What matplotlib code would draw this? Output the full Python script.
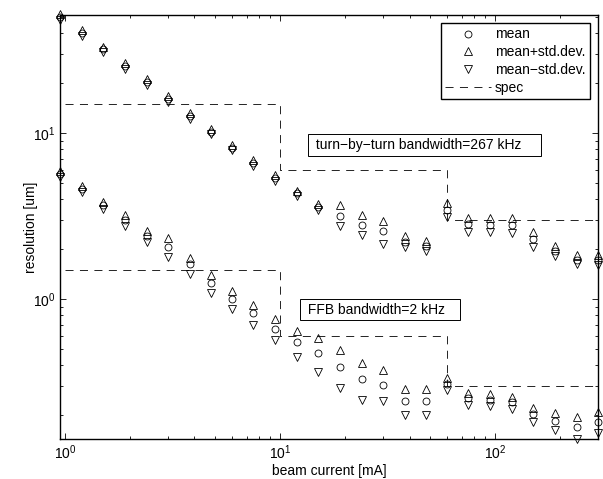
import matplotlib
matplotlib.use("Agg")
import matplotlib.pyplot as plt
from matplotlib.ticker import NullFormatter

plt.rcParams['font.family'] = ['Liberation Sans', 'DejaVu Sans']
plt.rcParams['font.size'] = 10
plt.rcParams['lines.scale_dashes'] = False

# beam current [mA]
current = [0.95, 1.2, 1.5, 1.9, 2.4, 3.0, 3.8, 4.75, 6.0, 7.5, 9.5, 12, 15, 19,
           24, 30, 38, 47.5, 60, 75, 95, 120, 150, 190, 240, 300]

# turn-by-turn resolution [um]
tbt_mean = [50, 39.9, 31.9, 25.4, 20.4, 16.0, 12.7, 10.2, 8.15, 6.62, 5.34, 4.33, 3.60,
            3.17, 2.79, 2.57, 2.22, 2.09, 3.44, 2.82, 2.80, 2.80, 2.30, 1.95, 1.73, 1.73]
tbt_up = [52, 41.5, 33.2, 26.4, 21.2, 16.6, 13.2, 10.6, 8.45, 6.88, 5.55, 4.50, 3.74,
          3.68, 3.21, 2.96, 2.40, 2.24, 3.77, 3.06, 3.06, 3.06, 2.54, 2.09, 1.84, 1.84]
tbt_down = [48, 38.3, 30.6, 24.4, 19.6, 15.4, 12.2, 9.8, 7.85, 6.36, 5.13, 4.16, 3.46,
            2.76, 2.43, 2.14, 2.07, 1.95, 3.13, 2.54, 2.54, 2.51, 2.07, 1.82, 1.62, 1.61]

# FFB resolution [um]
ffb_mean = [5.66, 4.58, 3.68, 2.99, 2.40, 2.05, 1.62, 1.254, 1.0, 0.820, 0.660, 0.553, 0.475,
            0.388, 0.328, 0.303, 0.244, 0.244, 0.308, 0.252, 0.247, 0.240, 0.203, 0.185, 0.169, 0.182]
ffb_up = [5.9, 4.78, 3.86, 3.21, 2.57, 2.32, 1.76, 1.395, 1.117, 0.920, 0.755, 0.641, 0.580,
          0.493, 0.413, 0.373, 0.286, 0.286, 0.333, 0.270, 0.268, 0.258, 0.220, 0.207, 0.195, 0.209]
ffb_down = [5.45, 4.40, 3.47, 2.75, 2.21, 1.78, 1.41, 1.09, 0.871, 0.697, 0.566, 0.449, 0.365,
            0.290, 0.245, 0.242, 0.200, 0.200, 0.283, 0.230, 0.227, 0.219, 0.182, 0.163, 0.143, 0.155]

# specification steps
spec_x = [1, 10, 10, 60, 60, 300]
spec_tbt = [15, 15, 6, 6, 3, 3]
spec_ffb = [1.5, 1.5, 0.6, 0.6, 0.3, 0.3]

fig = plt.figure(figsize=(6.03, 4.79), dpi=100)
ax = fig.add_axes([60/603, 1-439/479, 538/603, 424/479])

mk = dict(linestyle='none', mfc='none', mec='black', mew=0.6, clip_on=False, zorder=3)
ax.plot(current, tbt_mean, marker='o', ms=5, label='mean', **mk)
ax.plot(current, tbt_up, marker='^', ms=6, label='mean+std.dev.', **mk)
ax.plot(current, tbt_down, marker='v', ms=6, label='mean\u2212std.dev.', **mk)
ax.plot(current, ffb_mean, marker='o', ms=5, **mk)
ax.plot(current, ffb_up, marker='^', ms=6, **mk)
ax.plot(current, ffb_down, marker='v', ms=6, **mk)

ax.plot(spec_x, spec_tbt, color='black', lw=0.6, dashes=(5.8, 4.6), label='spec')
ax.plot(spec_x, spec_ffb, color='black', lw=0.6, dashes=(5.8, 4.6))

ax.set_xscale('log')
ax.set_yscale('log')
ax.set_xlim(0.948, 301)
ax.set_ylim(0.1435, 51.4)

ax.set_xticks([1, 10, 100])
ax.set_xticklabels([r'$\mathregular{10^{0}}$', r'$\mathregular{10^{1}}$', r'$\mathregular{10^{2}}$'])
ax.set_yticks([1, 10])
ax.set_yticklabels([r'$\mathregular{10^{0}}$', r'$\mathregular{10^{1}}$'])
ax.xaxis.set_minor_formatter(NullFormatter())
ax.yaxis.set_minor_formatter(NullFormatter())
ax.tick_params(which='both', direction='in', top=True, right=True, width=0.6)
ax.tick_params(which='major', length=4)
ax.tick_params(which='minor', length=2.5)
for s in ax.spines.values():
    s.set_linewidth(1.0)

ax.set_xlabel('beam current [mA]', labelpad=1)
ax.set_ylabel('resolution [um]', labelpad=-4)

box = dict(boxstyle='square,pad=0.27', fc='white', ec='black', lw=0.7)
ax.text(47.0, 8.47, ' turn\u2212by\u2212turn bandwidth=267 kHz    ', ha='center', va='center', bbox=box)
ax.text(29.3, 0.864, ' FFB bandwidth=2 kHz   ', ha='center', va='center', bbox=box)

leg = ax.legend(loc='upper right', fancybox=False, edgecolor='black', framealpha=1,
                handlelength=3.3, handletextpad=0.3, labelspacing=0.27, borderpad=0.3,
                borderaxespad=0.6)
leg.get_frame().set_linewidth(1.0)

fig.savefig('out.png', dpi=100)
